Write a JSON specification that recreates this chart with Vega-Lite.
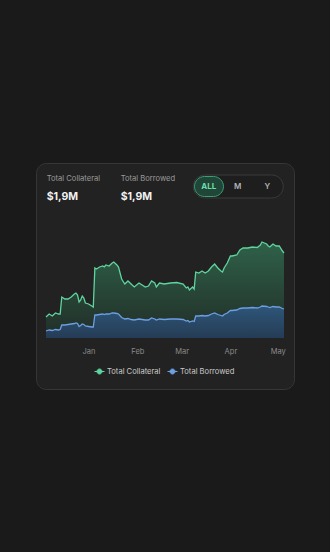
{
  "$schema": "https://vega.github.io/schema/vega-lite/v6.json",
  "autosize": {"type": "none"},
  "width": 258,
  "height": 226,
  "padding": {"left": 36, "top": 163, "right": 36, "bottom": 163},
  "background": "#1a1a1a",
  "config": {
    "view": {"fill": "#222222", "stroke": "#363636", "strokeWidth": 1, "cornerRadius": 10},
    "font": "Inter",
    "text": {"font": "Inter"}
  },
  "datasets": {
    "series": [
      {"date": "2022-12-05", "Total Collateral": 21, "Total Borrowed": 7},
      {"date": "2022-12-07", "Total Collateral": 24, "Total Borrowed": 8},
      {"date": "2022-12-09", "Total Collateral": 22, "Total Borrowed": 7.5},
      {"date": "2022-12-11", "Total Collateral": 25, "Total Borrowed": 8.5},
      {"date": "2022-12-13", "Total Collateral": 24, "Total Borrowed": 8},
      {"date": "2022-12-14", "Total Collateral": 24, "Total Borrowed": 8.5},
      {"date": "2022-12-15", "Total Collateral": 41, "Total Borrowed": 13},
      {"date": "2022-12-17", "Total Collateral": 39, "Total Borrowed": 13},
      {"date": "2022-12-19", "Total Collateral": 39, "Total Borrowed": 13.5},
      {"date": "2022-12-21", "Total Collateral": 41, "Total Borrowed": 14},
      {"date": "2022-12-23", "Total Collateral": 44, "Total Borrowed": 14.5},
      {"date": "2022-12-24", "Total Collateral": 45, "Total Borrowed": 15},
      {"date": "2022-12-25", "Total Collateral": 43, "Total Borrowed": 14.5},
      {"date": "2022-12-26", "Total Collateral": 36, "Total Borrowed": 11.5},
      {"date": "2022-12-27", "Total Collateral": 38, "Total Borrowed": 12.5},
      {"date": "2022-12-28", "Total Collateral": 42, "Total Borrowed": 14},
      {"date": "2022-12-29", "Total Collateral": 40, "Total Borrowed": 13.5},
      {"date": "2022-12-30", "Total Collateral": 35, "Total Borrowed": 12},
      {"date": "2023-01-01", "Total Collateral": 34, "Total Borrowed": 11.5},
      {"date": "2023-01-03", "Total Collateral": 32, "Total Borrowed": 11},
      {"date": "2023-01-04", "Total Collateral": 31, "Total Borrowed": 11},
      {"date": "2023-01-05", "Total Collateral": 70, "Total Borrowed": 23},
      {"date": "2023-01-06", "Total Collateral": 69, "Total Borrowed": 23},
      {"date": "2023-01-08", "Total Collateral": 71, "Total Borrowed": 23.5},
      {"date": "2023-01-10", "Total Collateral": 72, "Total Borrowed": 24},
      {"date": "2023-01-11", "Total Collateral": 71, "Total Borrowed": 23.5},
      {"date": "2023-01-12", "Total Collateral": 73, "Total Borrowed": 24},
      {"date": "2023-01-14", "Total Collateral": 72, "Total Borrowed": 24},
      {"date": "2023-01-16", "Total Collateral": 75, "Total Borrowed": 25},
      {"date": "2023-01-17", "Total Collateral": 76, "Total Borrowed": 25},
      {"date": "2023-01-19", "Total Collateral": 73, "Total Borrowed": 24.5},
      {"date": "2023-01-20", "Total Collateral": 71, "Total Borrowed": 24},
      {"date": "2023-01-22", "Total Collateral": 59, "Total Borrowed": 20.5},
      {"date": "2023-01-24", "Total Collateral": 54, "Total Borrowed": 19},
      {"date": "2023-01-26", "Total Collateral": 57, "Total Borrowed": 19.5},
      {"date": "2023-01-28", "Total Collateral": 54, "Total Borrowed": 18.5},
      {"date": "2023-01-30", "Total Collateral": 51, "Total Borrowed": 18},
      {"date": "2023-02-02", "Total Collateral": 55, "Total Borrowed": 19},
      {"date": "2023-02-04", "Total Collateral": 53, "Total Borrowed": 18.5},
      {"date": "2023-02-06", "Total Collateral": 51, "Total Borrowed": 18},
      {"date": "2023-02-08", "Total Collateral": 52, "Total Borrowed": 18},
      {"date": "2023-02-10", "Total Collateral": 57, "Total Borrowed": 20},
      {"date": "2023-02-12", "Total Collateral": 55, "Total Borrowed": 19},
      {"date": "2023-02-13", "Total Collateral": 51, "Total Borrowed": 18},
      {"date": "2023-02-15", "Total Collateral": 55, "Total Borrowed": 19},
      {"date": "2023-02-18", "Total Collateral": 54, "Total Borrowed": 18.5},
      {"date": "2023-02-22", "Total Collateral": 55, "Total Borrowed": 19},
      {"date": "2023-02-26", "Total Collateral": 55.5, "Total Borrowed": 19},
      {"date": "2023-03-02", "Total Collateral": 54, "Total Borrowed": 18.5},
      {"date": "2023-03-04", "Total Collateral": 50, "Total Borrowed": 17},
      {"date": "2023-03-05", "Total Collateral": 51, "Total Borrowed": 17.5},
      {"date": "2023-03-06", "Total Collateral": 48, "Total Borrowed": 16},
      {"date": "2023-03-08", "Total Collateral": 51, "Total Borrowed": 17},
      {"date": "2023-03-09", "Total Collateral": 49, "Total Borrowed": 16.5},
      {"date": "2023-03-10", "Total Collateral": 66, "Total Borrowed": 22},
      {"date": "2023-03-12", "Total Collateral": 65, "Total Borrowed": 22},
      {"date": "2023-03-14", "Total Collateral": 67, "Total Borrowed": 22.5},
      {"date": "2023-03-16", "Total Collateral": 65, "Total Borrowed": 22},
      {"date": "2023-03-18", "Total Collateral": 67, "Total Borrowed": 22.5},
      {"date": "2023-03-20", "Total Collateral": 71, "Total Borrowed": 24},
      {"date": "2023-03-22", "Total Collateral": 74, "Total Borrowed": 25},
      {"date": "2023-03-24", "Total Collateral": 70, "Total Borrowed": 23.5},
      {"date": "2023-03-26", "Total Collateral": 67, "Total Borrowed": 22.5},
      {"date": "2023-03-27", "Total Collateral": 66, "Total Borrowed": 22},
      {"date": "2023-03-28", "Total Collateral": 70, "Total Borrowed": 23.5},
      {"date": "2023-03-30", "Total Collateral": 75, "Total Borrowed": 25},
      {"date": "2023-04-01", "Total Collateral": 82, "Total Borrowed": 27.5},
      {"date": "2023-04-02", "Total Collateral": 82, "Total Borrowed": 27.5},
      {"date": "2023-04-05", "Total Collateral": 83, "Total Borrowed": 28},
      {"date": "2023-04-07", "Total Collateral": 88, "Total Borrowed": 29.5},
      {"date": "2023-04-09", "Total Collateral": 90, "Total Borrowed": 30},
      {"date": "2023-04-12", "Total Collateral": 90, "Total Borrowed": 30},
      {"date": "2023-04-15", "Total Collateral": 91, "Total Borrowed": 30.5},
      {"date": "2023-04-18", "Total Collateral": 90.5, "Total Borrowed": 30},
      {"date": "2023-04-20", "Total Collateral": 93, "Total Borrowed": 31},
      {"date": "2023-04-21", "Total Collateral": 96, "Total Borrowed": 32},
      {"date": "2023-04-24", "Total Collateral": 94, "Total Borrowed": 31.5},
      {"date": "2023-04-25", "Total Collateral": 92, "Total Borrowed": 31},
      {"date": "2023-04-26", "Total Collateral": 91, "Total Borrowed": 30.5},
      {"date": "2023-04-28", "Total Collateral": 94, "Total Borrowed": 31.5},
      {"date": "2023-04-30", "Total Collateral": 92, "Total Borrowed": 31},
      {"date": "2023-05-02", "Total Collateral": 92, "Total Borrowed": 31},
      {"date": "2023-05-04", "Total Collateral": 87, "Total Borrowed": 29.5},
      {"date": "2023-05-05", "Total Collateral": 85, "Total Borrowed": 29}
    ]
  },
  "layer": [
    {
      "data": {"name": "series"},
      "mark": {"type": "area", "fill": {"gradient": "linear", "x1": 0, "y1": 0, "x2": 0, "y2": 1, "stops": [{"offset": 0, "color": "#2f6149"}, {"offset": 1, "color": "#212d27"}]}},
      "encoding": {
        "x": {"field": "date", "type": "temporal",
          "scale": {"type": "utc", "domain": [{"year": 2022, "month": "nov", "date": 28, "hours": 15, "minutes": 45, "utc": true}, {"year": 2023, "month": "may", "date": 11, "hours": 8, "minutes": 15, "utc": true}]},
          "axis": {"orient": "bottom", "offset": -51, "domain": false, "ticks": false, "grid": false, "title": null,
            "values": [{"year": 2023, "month": "jan", "date": 1, "utc": true}, {"year": 2023, "month": "feb", "date": 1, "utc": true}, {"year": 2023, "month": "mar", "date": 1, "utc": true}, {"year": 2023, "month": "apr", "date": 1, "utc": true}, {"year": 2023, "month": "may", "date": 1, "utc": true}],
            "format": "%b", "labelColor": "#8a8a8a", "labelFontSize": 7.5, "labelFont": "Inter", "labelPadding": 9, "labelFlush": false}},
        "y": {"field": "Total Collateral", "type": "quantitative", "scale": {"domain": [-51, 175], "nice": false, "zero": false}, "axis": null}
      }
    },
    {
      "data": {"name": "series"},
      "mark": {"type": "area", "fill": {"gradient": "linear", "x1": 0, "y1": 0, "x2": 0, "y2": 1, "stops": [{"offset": 0, "color": "#2e5679"}, {"offset": 1, "color": "#253c55"}]}},
      "encoding": {
        "x": {"field": "date", "type": "temporal"},
        "y": {"field": "Total Borrowed", "type": "quantitative"}
      }
    },
    {
      "data": {"name": "series"},
      "transform": [{"fold": ["Total Collateral", "Total Borrowed"], "as": ["series", "value"]}],
      "mark": {"type": "line", "strokeWidth": 1.3},
      "encoding": {
        "x": {"field": "date", "type": "temporal"},
        "y": {"field": "value", "type": "quantitative"},
        "color": {"field": "series", "type": "nominal",
          "scale": {"domain": ["Total Collateral", "Total Borrowed"], "range": ["#5fd49f", "#6c9fe4"]},
          "legend": {"orient": "none", "legendX": 58, "legendY": 203, "direction": "horizontal", "title": null,
            "symbolType": "M-1,0H1M0,-0.5A0.5,0.5,0,1,1,0,0.5A0.5,0.5,0,1,1,0,-0.5Z",
            "symbolSize": 100, "symbolStrokeWidth": 1, "labelFontSize": 7.6, "labelFont": "Inter", "labelColor": "#c9c9c9",
            "labelOffset": 2, "columnPadding": 4, "padding": 0,
            "encode": {"symbols": {"update": {"fill": {"scale": "color", "field": "value"}, "stroke": {"scale": "color", "field": "value"}}}}}
        }
      }
    },
    {
      "data": {"values": [{"label": "Total Collateral", "amount": "$1,9M"}]},
      "layer": [
        {"mark": {"type": "text", "align": "left", "baseline": "middle", "fontSize": 7.6, "color": "#9a9a9a"},
          "encoding": {"x": {"datum": {"year": 2022, "month": "dec", "date": 5, "hours": 10, "minutes": 40, "utc": true}, "type": "temporal"}, "y": {"datum": 159, "type": "quantitative"}, "text": {"field": "label"}}},
        {"mark": {"type": "text", "align": "left", "baseline": "middle", "fontSize": 10.5, "fontWeight": "bold", "color": "#f2f2f2"},
          "encoding": {"x": {"datum": {"year": 2022, "month": "dec", "date": 5, "hours": 10, "minutes": 40, "utc": true}, "type": "temporal"}, "y": {"datum": 141.5, "type": "quantitative"}, "text": {"field": "amount"}}}
      ]
    },
    {
      "data": {"values": [{"label": "Total Borrowed", "amount": "$1,9M"}]},
      "layer": [
        {"mark": {"type": "text", "align": "left", "baseline": "middle", "fontSize": 7.6, "color": "#9a9a9a"},
          "encoding": {"x": {"datum": {"year": 2023, "month": "jan", "date": 21, "hours": 9, "minutes": 25, "utc": true}, "type": "temporal"}, "y": {"datum": 159, "type": "quantitative"}, "text": {"field": "label"}}},
        {"mark": {"type": "text", "align": "left", "baseline": "middle", "fontSize": 10.5, "fontWeight": "bold", "color": "#f2f2f2"},
          "encoding": {"x": {"datum": {"year": 2023, "month": "jan", "date": 21, "hours": 9, "minutes": 25, "utc": true}, "type": "temporal"}, "y": {"datum": 141.5, "type": "quantitative"}, "text": {"field": "amount"}}}
      ]
    },
    {
      "data": {"values": [{"control": "period"}]},
      "mark": {"type": "rect", "cornerRadius": 11.5, "fill": "#1e1e1e", "stroke": "#3a3a3a", "strokeWidth": 1},
      "encoding": {
        "x": {"datum": {"year": 2023, "month": "mar", "date": 8, "hours": 10, "minutes": 50, "utc": true}, "type": "temporal"},
        "x2": {"datum": {"year": 2023, "month": "may", "date": 4, "hours": 13, "minutes": 10, "utc": true}},
        "y": {"datum": 163, "type": "quantitative"},
        "y2": {"datum": 140}
      }
    },
    {
      "data": {"values": [{"option": "ALL"}]},
      "layer": [
        {"mark": {"type": "rect", "cornerRadius": 10, "fill": "#1f4637", "stroke": "#3d9d77", "strokeWidth": 1},
          "encoding": {
            "x": {"datum": {"year": 2023, "month": "mar", "date": 9, "hours": 5, "utc": true}, "type": "temporal"},
            "x2": {"datum": {"year": 2023, "month": "mar", "date": 27, "hours": 14, "minutes": 40, "utc": true}},
            "y": {"datum": 161.5, "type": "quantitative"},
            "y2": {"datum": 141.5}
          }},
        {"mark": {"type": "text", "align": "center", "baseline": "middle", "fontSize": 8, "fontWeight": "bold", "color": "#6fdcaa"},
          "encoding": {"x": {"datum": {"year": 2023, "month": "mar", "date": 18, "hours": 5, "minutes": 20, "utc": true}, "type": "temporal"}, "y": {"datum": 151.5, "type": "quantitative"}, "text": {"field": "option"}}}
      ]
    },
    {
      "data": {"values": [{"option": "M"}]},
      "mark": {"type": "text", "align": "center", "baseline": "middle", "fontSize": 8, "fontWeight": 600, "color": "#b3b3b3"},
      "encoding": {"x": {"datum": {"year": 2023, "month": "apr", "date": 5, "hours": 14, "minutes": 50, "utc": true}, "type": "temporal"}, "y": {"datum": 151.5, "type": "quantitative"}, "text": {"field": "option"}}
    },
    {
      "data": {"values": [{"option": "Y"}]},
      "mark": {"type": "text", "align": "center", "baseline": "middle", "fontSize": 8, "fontWeight": 600, "color": "#b3b3b3"},
      "encoding": {"x": {"datum": {"year": 2023, "month": "apr", "date": 24, "hours": 9, "minutes": 40, "utc": true}, "type": "temporal"}, "y": {"datum": 151.5, "type": "quantitative"}, "text": {"field": "option"}}
    }
  ]
}
